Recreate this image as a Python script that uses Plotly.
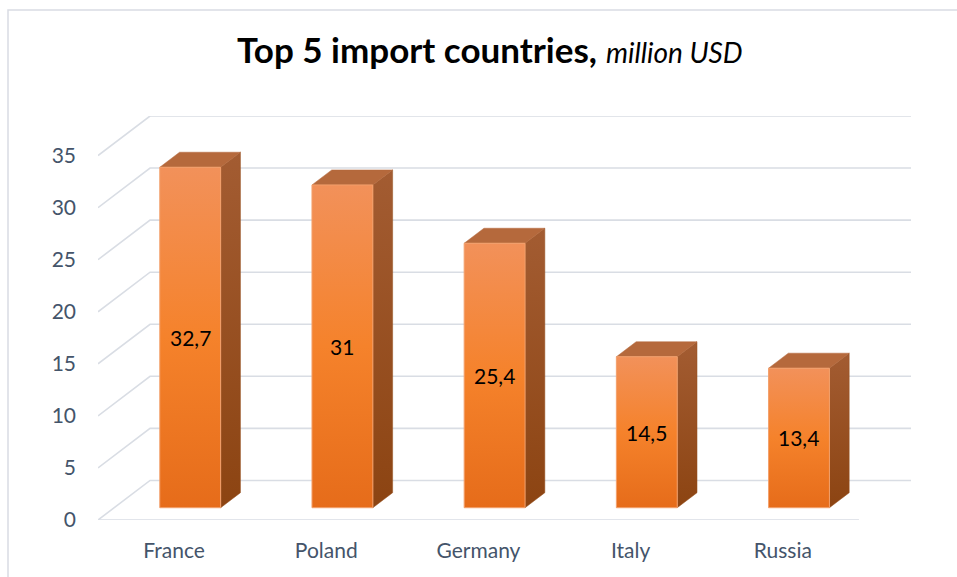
import plotly.graph_objects as go

# ---- data ----
countries = ["France", "Poland", "Germany", "Italy", "Russia"]
values = [32.7, 31.0, 25.4, 14.5, 13.4]
value_labels = ["32,7", "31", "25,4", "14,5", "13,4"]
y_ticks = [0, 5, 10, 15, 20, 25, 30, 35]

# ---- pseudo-3D geometry (data units) ----
DX = 0.342      # wall depth along x (category units)
DY = 3.80       # wall depth along y (value units)
F0 = 0.31       # bar front position as fraction of depth
FD = 0.38       # bar depth as fraction of depth
BW = 0.40       # bar width (category units)
YMAX = y_ticks[-1]
n = len(countries)

grid_col = "#d9dde4"
text_col = "#44546a"

fig = go.Figure()
shapes = []

# border of chart area
shapes.append(dict(type="rect", xref="paper", yref="paper",
                   x0=(8 - 98) / 813, x1=1.2, y0=-0.4, y1=(520 - 10) / 404,
                   line=dict(color="#d9dce3", width=1.5), fillcolor="rgba(0,0,0,0)",
                   layer="below"))

# wall grid lines
for v in y_ticks:
    x_l = -0.5
    path = f"M {x_l},{v} L {x_l + DX},{v + DY} L {n - 0.5 + DX},{v + DY}"
    shapes.append(dict(type="path", xref="x", yref="y", path=path,
                       line=dict(color=grid_col, width=1.6), layer="below"))
# floor front edge
shapes.append(dict(type="line", xref="x", yref="y", x0=-0.5, y0=0, x1=n - 0.5, y1=0,
                   line=dict(color=grid_col, width=1.6), layer="below"))

annotations = []
for i, (c, v, lab) in enumerate(zip(countries, values, value_labels)):
    fx0 = i - BW / 2 + F0 * DX
    fx1 = fx0 + BW
    fy0 = F0 * DY
    fy1 = v + F0 * DY
    ddx = FD * DX
    ddy = FD * DY
    # side face
    fig.add_trace(go.Scatter(
        x=[fx1, fx1 + ddx, fx1 + ddx, fx1, fx1],
        y=[fy0, fy0 + ddy, fy1 + ddy, fy1, fy0],
        mode="lines", fill="toself", line=dict(width=0.5, color="#97501f"),
        fillgradient=dict(type="vertical",
                          colorscale=[[0, "#8c4412"], [1, "#a35c32"]]),
        hoverinfo="skip", showlegend=False))
    # top face
    fig.add_trace(go.Scatter(
        x=[fx0, fx1, fx1 + ddx, fx0 + ddx, fx0],
        y=[fy1, fy1, fy1 + ddy, fy1 + ddy, fy1],
        mode="lines", fill="toself", line=dict(width=0.5, color="#b5693c"),
        fillcolor="#b5693c", hoverinfo="skip", showlegend=False))
    # front face
    fig.add_trace(go.Scatter(
        x=[fx0, fx1, fx1, fx0, fx0],
        y=[fy0, fy0, fy1, fy1, fy0],
        mode="lines", fill="toself", line=dict(width=1, color="#f3a06c"),
        fillgradient=dict(type="vertical",
                          colorscale=[[0, "#e66c1a"], [0.5, "#f5822b"], [1, "#f2915a"]]),
        hovertext=f"{c}: {lab}", hoverinfo="text", showlegend=False))
    annotations.append(dict(x=(fx0 + fx1) / 2, y=(fy0 + fy1) / 2, xref="x", yref="y",
                            text=lab, showarrow=False,
                            font=dict(family="Lato", size=21, color="#000000")))

annotations.append(dict(
    xref="paper", yref="paper", x=(490 - 98) / 813, y=(520 - 49) / 404,
    xanchor="center", yanchor="middle", showarrow=False,
    text="<b>Top 5 import countries,</b> <i><span style='font-size:28px'>million USD</span></i>",
    font=dict(family="Lato", size=35, color="#000000")))

fig.update_layout(
    width=957, height=577,
    margin=dict(l=98, r=46, t=116, b=57),
    paper_bgcolor="white", plot_bgcolor="white",
    shapes=shapes, annotations=annotations,
    font=dict(family="Lato", color=text_col),
    xaxis=dict(range=[-0.5, n - 0.5 + DX], tickvals=list(range(n)), ticktext=countries,
               showgrid=False, zeroline=False, showline=False,
               tickfont=dict(family="Lato", size=21, color=text_col),
               ticklabelstandoff=16, fixedrange=True),
    yaxis=dict(range=[0, YMAX + DY], tickvals=y_ticks,
               ticktext=[str(t) for t in y_ticks],
               showgrid=False, zeroline=False, showline=False,
               tickfont=dict(family="Lato", size=21, color=text_col),
               ticklabelstandoff=21, fixedrange=True),
)

fig.write_html("out.html")
